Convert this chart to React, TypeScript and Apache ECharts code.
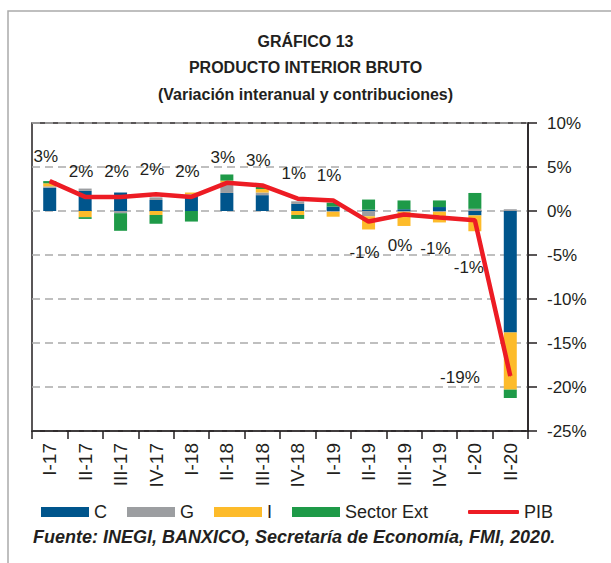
import React, { useEffect, useRef } from "react";
import * as echarts from "echarts";

const categories = ["I-17", "II-17", "III-17", "IV-17", "I-18", "II-18", "III-18", "IV-18", "I-19", "II-19", "III-19", "IV-19", "I-20", "II-20"];
const consumo = [2.65, 2.3, 2.1, 1.25, 1.85, 2.05, 1.8, 0.8, 0.5, 0.15, 0.2, 0.45, -0.5, -13.8];
const gobierno = [0.15, 0.25, -0.25, 0.3, 0.05, 1.2, 0.3, 0.3, -0.1, -0.6, -0.1, -0.1, 0.25, 0.2];
const inversion = [0.35, -0.7, 0, -0.45, 0.2, 0.2, 0.4, -0.45, -0.55, -1.5, -1.6, -1.2, -1.8, -6.5];
const sectorExt = [0.25, -0.2, -2.0, -1.0, -1.2, 0.7, 0.3, -0.45, 0.45, 1.15, 1.0, 0.75, 1.8, -0.95];
const pib = [3.4, 1.6, 1.6, 1.9, 1.6, 3.2, 2.9, 1.4, 1.2, -1.2, -0.4, -0.75, -1.05, -18.75];

const titleLines = ["GRÁFICO 13", "PRODUCTO INTERIOR BRUTO", "(Variación interanual y contribuciones)"];
const sourceText = "Fuente: INEGI, BANXICO, Secretaría de Economía, FMI, 2020.";

const FONT = "'Liberation Sans', Arial, Helvetica, sans-serif";
const TXT = "#231f20";

export default function App() {
  const ref = useRef<HTMLDivElement>(null);
  useEffect(() => {
    if (!ref.current) return;
    const chart = echarts.init(ref.current, undefined, { renderer: "svg" });

    const barSeries = (name: string, data: number[], color: string) => ({
      name,
      type: "bar",
      stack: "contrib",
      barWidth: 13,
      data,
      itemStyle: { color },
    });

    const pibData = pib.map((v, i) => {
      const cat = categories[i];
      let label: any;
      if (cat === "II-20") {
        label = { position: "left", distance: 30, offset: [0, 1] };
      } else if (cat === "I-20") {
        label = { position: "bottom", distance: 38, offset: [-6, 0] };
      } else if (v < 0) {
        label = { position: "bottom", distance: 22, offset: [-4, 0] };
      } else {
        label = { position: "top", distance: 16, offset: [-4, 0] };
      }
      return { value: v, label };
    });

    chart.setOption({
      animation: false,
      textStyle: { fontFamily: FONT },
      title: titleLines.map((t, i) => ({
        text: t,
        left: "center",
        top: 33 + i * 26.5,
        padding: 0,
        textStyle: { fontFamily: FONT, fontSize: 16, fontWeight: "bold", color: TXT },
      })),
      grid: {
        left: 32,
        right: 83,
        top: 123,
        bottom: 132,
        show: true,
        borderColor: TXT,
        borderWidth: 1.5,
        backgroundColor: "transparent",
      },
      legend: [
        {
          left: 36,
          top: 498,
          itemWidth: 48,
          itemHeight: 10,
          itemGap: 20,
          icon: "rect",
          textStyle: { fontFamily: FONT, fontSize: 18, color: TXT },
          data: ["C", "G", "I", "Sector Ext"],
        },
        {
          left: 463,
          top: 498,
          itemWidth: 51,
          itemHeight: 4,
          textStyle: { fontFamily: FONT, fontSize: 18, color: TXT },
          data: [{ name: "PIB", icon: "roundRect" }],
        },
      ],
      xAxis: {
        type: "category",
        data: categories,
        boundaryGap: true,
        axisLine: { onZero: false, lineStyle: { color: TXT, width: 1.5 } },
        axisTick: { show: true, length: 8, alignWithLabel: false, lineStyle: { color: TXT, width: 1.5 } },
        axisLabel: { rotate: 90, margin: 12, fontSize: 19, color: TXT, fontFamily: FONT, interval: 0 },
      },
      yAxis: {
        type: "value",
        position: "right",
        min: -25,
        max: 10,
        interval: 5,
        axisLine: { show: true, lineStyle: { color: TXT, width: 1.5 } },
        axisTick: { show: true, length: 9, inside: false, lineStyle: { color: TXT, width: 1.5 } },
        axisLabel: { formatter: "{value}%", margin: 19, fontSize: 17, color: TXT, fontFamily: FONT },
        splitLine: { show: true, lineStyle: { color: "#aaaaaa", width: 1.5, type: [8, 5] } },
      },
      series: [
        barSeries("C", consumo, "#00558c"),
        barSeries("G", gobierno, "#9c9ea1"),
        barSeries("I", inversion, "#fdbb2a"),
        barSeries("Sector Ext", sectorExt, "#1e9a48"),
        {
          name: "PIB",
          type: "line",
          data: pibData,
          z: 5,
          symbol: "circle",
          symbolSize: 1,
          showSymbol: true,
          lineStyle: { color: "#ed1c24", width: 4.5 },
          itemStyle: { color: "#ed1c24" },
          label: {
            show: true,
            fontSize: 17,
            color: TXT,
            fontFamily: FONT,
            formatter: (p: any) => `${Math.round(p.value)}%`,
          },
        },
      ],
      graphic: [
        {
          type: "rect",
          shape: { x: 8, y: 11, width: 900, height: 900 },
          style: { fill: "none", stroke: "#aaaaaa", lineWidth: 1.5 },
          silent: true,
        },
        {
          type: "text",
          left: 33,
          top: 528,
          style: {
            text: sourceText,
            fontFamily: FONT,
            fontSize: 18,
            fontWeight: "bold",
            fontStyle: "italic",
            fill: TXT,
          },
        },
      ],
    });
    return () => chart.dispose();
  }, []);

  return (
    <div
      ref={ref}
      style={{ position: "absolute", left: 0, top: 0, width: 611, height: 563, background: "#fff" }}
    />
  );
}
